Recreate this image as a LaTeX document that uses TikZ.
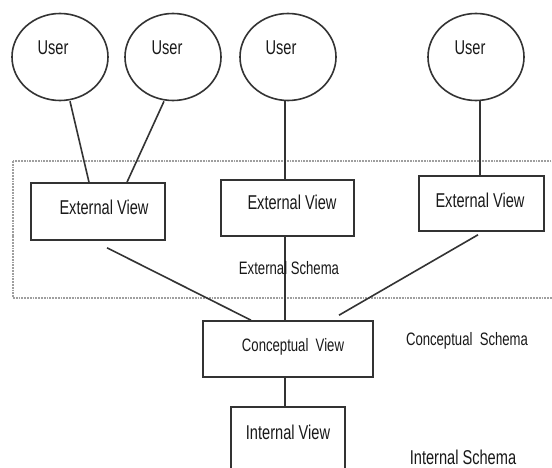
\documentclass[tikz,border=0pt]{standalone}
\usepackage{fontspec}
\setmainfont[FakeStretch=0.73]{Liberation Sans}
\usetikzlibrary{shapes.geometric,calc}
\begin{document}
\begin{tikzpicture}[x=1bp,y=-1bp,
  every node/.style={text=black!90},
  userell/.style={ellipse, draw=black!80, line width=1.6bp, minimum width=96bp, minimum height=87bp, inner sep=0pt},
  viewbox/.style={rectangle, draw=black!80, line width=1.6bp, inner sep=0pt},
  lbl/.style={inner sep=0pt, font=\fontsize{20bp}{24bp}\selectfont},
  slbl/.style={inner sep=0pt, font=\fontsize{18bp}{22bp}\selectfont},
  conn/.style={draw=black!80, line width=1.6bp},
  schemabox/.style={draw=gray!75, line width=1.8bp, densely dotted}]
\useasboundingbox (0,0) rectangle (552,468);
\fill[white] (0,0) rectangle (552,468);
% external schema region
\draw[schemabox] (13,161) rectangle (580,298);
% users
\node[userell] (u1) at (60,57) {};
\node[userell] (u2) at (173,57) {};
\node[userell] (u3) at (288,57) {};
\node[userell] (u4) at (476,57) {};
\node[lbl] (u1t) at (53,48) {User};
\node[lbl] (u2t) at (167,48) {User};
\node[lbl] (u3t) at (281,48) {User};
\node[lbl] (u4t) at (470,48) {User};
% external views
\node[viewbox, minimum width=134bp, minimum height=57bp] (ev1) at (98,211.5) {};
\node[viewbox, minimum width=133bp, minimum height=56bp] (ev2) at (287.5,208) {};
\node[viewbox, minimum width=125bp, minimum height=55bp] (ev3) at (481.5,203.5) {};
\node[lbl] (ev1t) at (104,207) {External View};
\node[lbl] (ev2t) at (292,202) {External View};
\node[lbl] (ev3t) at (480,200) {External View};
% conceptual and internal
\node[viewbox, minimum width=170bp, minimum height=56bp] (cv) at (288,349) {};
\node[slbl] (cvt) at (293,347) {Conceptual~~View};
\node[viewbox, minimum width=114bp, minimum height=80bp, anchor=north] (iv) at (288,406) {};
\node[lbl] (ivt) at (288,432) {Internal View};
% connectors
\draw[conn] ($(u1.south)+(10,0)$) -- ($(ev1.north)+(-9,0)$);
\draw[conn] ($(u2.south)+(-9,0)$) -- ($(ev1.north)+(29,0)$);
\draw[conn] ($(u3.south)+(-3,0)$) -- ($(ev2.north)+(-2.5,0)$);
\draw[conn] ($(u4.south)+(4,0)$) -- ($(ev3.north)+(-1.5,0)$);
\draw[conn] ($(ev1.south)+(9,7)$) -- ($(cv.north)+(-37,0)$);
\draw[conn] ($(ev3.south)+(-3.5,3)$) -- ($(cv.north)+(51,-5)$);
\draw[conn] ($(ev2.south)+(-2.5,0)$) -- ($(cv.north)+(-3,0)$);
\draw[conn] ($(cv.south)+(-3,0)$) -- ($(iv.north)+(-3,0)$);
% schema labels
\node[slbl] (est) at (289,268) {External Schema};
\node[slbl] (cst) at (467,341) {Conceptual~~Schema};
\node[lbl] (ist) at (463,457) {Internal Schema};
\end{tikzpicture}
\end{document}
